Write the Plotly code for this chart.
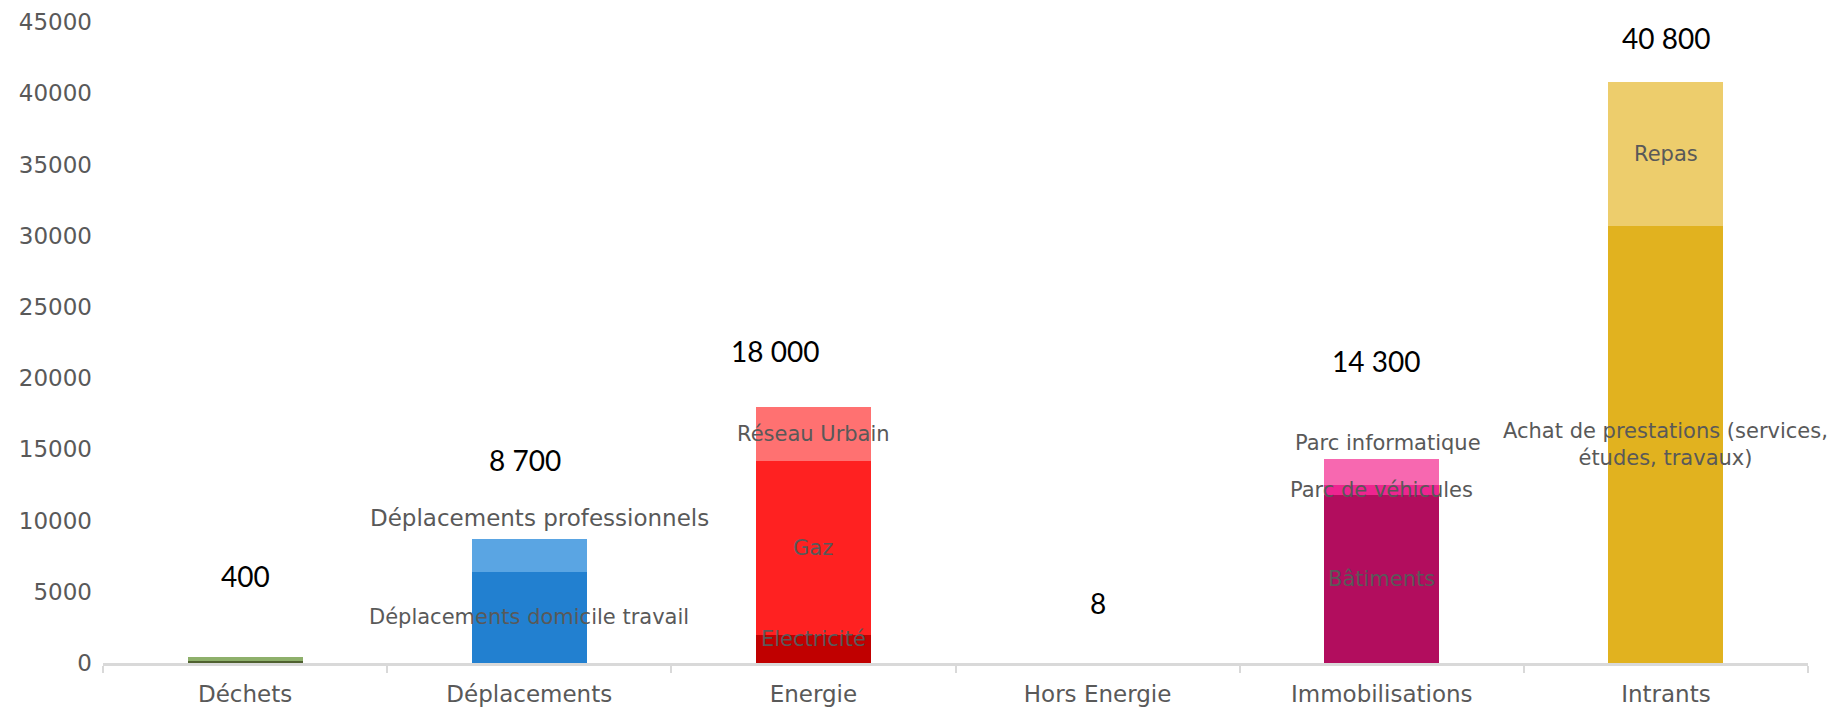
import plotly.graph_objects as go

categories = ["Déchets", "Déplacements", "Energie", "Hors Energie", "Immobilisations", "Intrants"]

# segments, bottom to top within each category
seg_category = ["Déchets", "Déchets",
                "Déplacements", "Déplacements",
                "Energie", "Energie", "Energie",
                "Hors Energie",
                "Immobilisations", "Immobilisations", "Immobilisations",
                "Intrants", "Intrants"]
seg_label = ["", "",
             "Déplacements domicile travail", "Déplacements professionnels",
             "Electricité", "Gaz", "Réseau Urbain",
             "",
             "Bâtiments", "Parc de véhicules", "Parc informatique",
             "Achat de prestations (services,<br>études, travaux)", "Repas"]
seg_value = [150, 250,
             6400, 2300,
             2000, 12200, 3800,
             8,
             11800, 700, 1800,
             30700, 10100]
seg_color = ["#4f6130", "#8eb06b",
             "#2280d0", "#5aa5e3",
             "#c00000", "#ff2121", "#ff7171",
             "rgba(0,0,0,0)",
             "#b20d5e", "#ee2590", "#f768b0",
             "#e1b21f", "#edcd6c"]
# style: pixel shifts and font size of each segment label
seg_label_shift = [0, 0, 0, 37, 10, 0, 0, 0, 0, 0, 29, 0, 0]
seg_label_xshift = [0, 0, 0, 10, 0, 0, 0, 0, 0, 0, 6, 0, 0]
seg_label_size = [21, 21, 21, 23, 21, 21, 21, 21, 21, 21, 21, 21, 21]
# style: pixel offsets of total labels relative to the bar top
total_label_shift = [81, 79, 56, 60, 98, 44]
total_label_xshift = [0, -4, -38, 0, -6, 0]

fig = go.Figure()
for c, lab, v, col in zip(seg_category, seg_label, seg_value, seg_color):
    fig.add_trace(go.Bar(x=[c], y=[v], marker=dict(color=col, line=dict(width=0)),
                         showlegend=False, hoverinfo="skip"))

annotations = []
cum = {c: 0 for c in categories}
for c, lab, v, sh, xs, fs in zip(seg_category, seg_label, seg_value, seg_label_shift,
                                 seg_label_xshift, seg_label_size):
    mid = cum[c] + v / 2
    cum[c] += v
    if lab:
        annotations.append(dict(x=c, y=mid, text=lab, showarrow=False, yshift=sh, xshift=xs,
                                font=dict(family="DejaVu Sans", size=fs, color="#595959"),
                                xanchor="center", yanchor="middle"))

for c, sh, xs in zip(categories, total_label_shift, total_label_xshift):
    tot = cum[c]
    txt = f"{tot:,}".replace(",", " ")
    annotations.append(dict(x=c, y=tot, text=txt, showarrow=False, yshift=sh, xshift=xs,
                            font=dict(family="Lato", size=28, color="#000000"),
                            xanchor="center", yanchor="middle"))

fig.update_layout(
    barmode="stack",
    bargap=0.595,
    width=1845, height=707,
    margin=dict(l=103, r=37, t=22, b=44),
    paper_bgcolor="white", plot_bgcolor="white",
    annotations=annotations,
    xaxis=dict(categoryorder="array", categoryarray=categories, automargin=False,
               range=[-0.5, len(categories) - 0.5], autorange=False,
               showline=True, linecolor="#d9d9d9", linewidth=3,
               ticks="outside", tickson="boundaries", ticklen=7, tickcolor="#d9d9d9", tickwidth=2,
               tickfont=dict(family="DejaVu Sans", size=23, color="#595959"),
               ticklabelstandoff=8, showgrid=False, zeroline=False),
    yaxis=dict(range=[0, 45000], tickvals=[0, 5000, 10000, 15000, 20000, 25000, 30000, 35000, 40000, 45000],
               tickformat="d", showgrid=False, zeroline=False, showline=False, automargin=False,
               tickfont=dict(family="DejaVu Sans", size=23, color="#595959"),
               ticklabelstandoff=10),
)

fig.write_html("out.html")
